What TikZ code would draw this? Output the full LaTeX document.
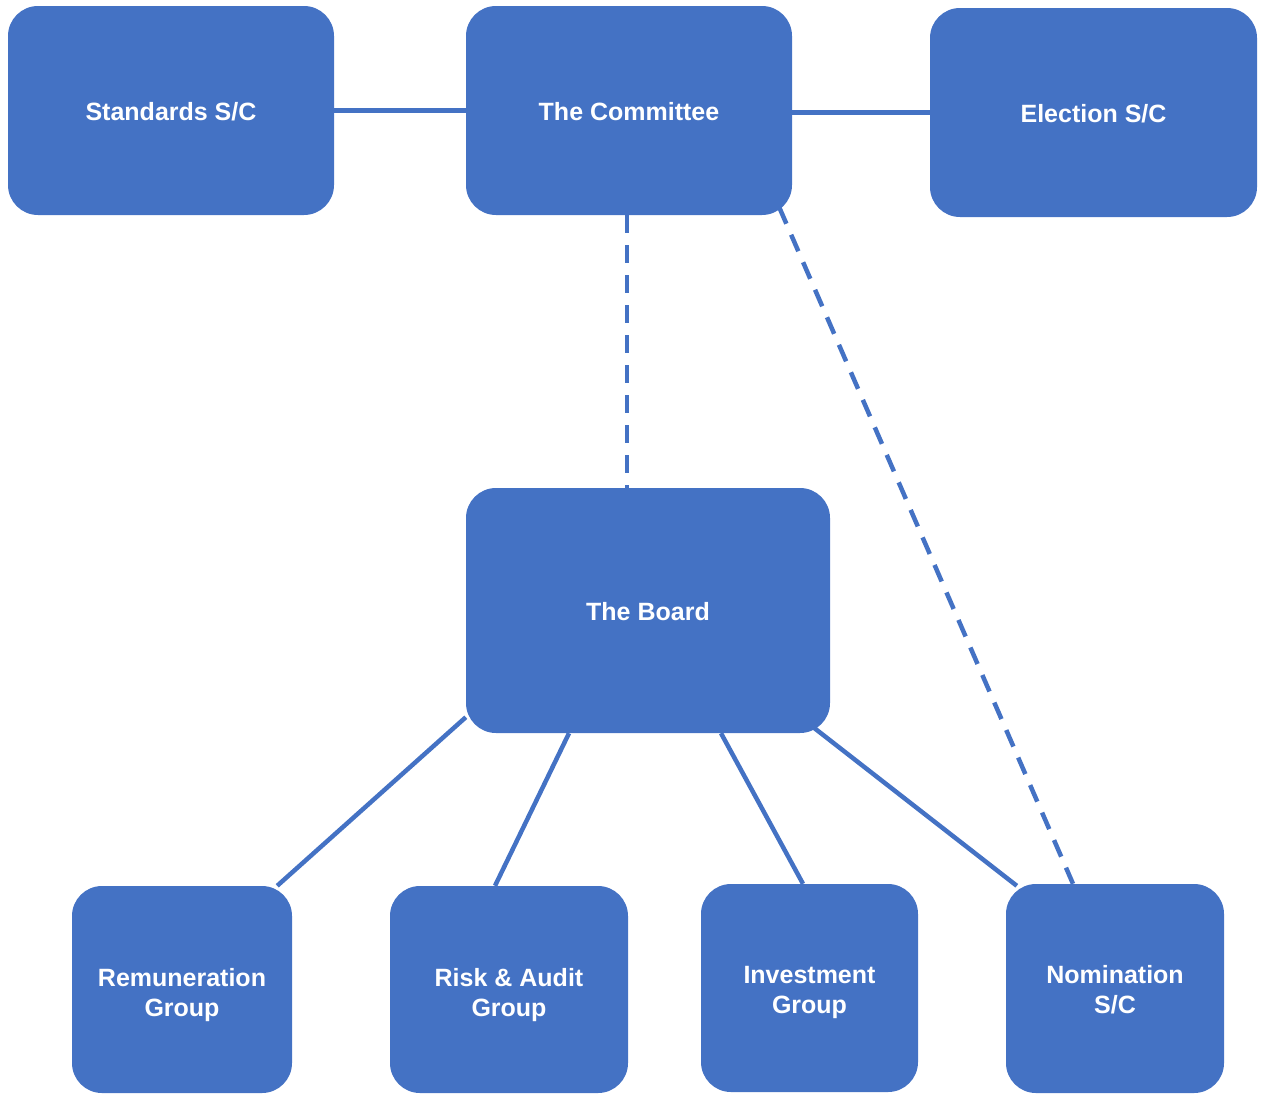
\documentclass[tikz,border=0pt]{standalone}
\usepackage{fontspec}
\setmainfont{Liberation Sans}
\usetikzlibrary{calc}
\pgfdeclarelayer{background}
\pgfsetlayers{background,main}
\definecolor{boxblue}{HTML}{4472C4}
\begin{document}
\begin{tikzpicture}[x=1pt,y=-1pt,
  box/.style={draw=none,fill=boxblue,rounded corners=30pt,inner sep=0pt},
  lbl/.style={text=white,font=\bfseries\fontsize{25}{30}\selectfont,align=center,inner sep=0pt},
  link/.style={draw=boxblue,line width=4.5pt},
  dlink/.style={link,dash pattern=on 18pt off 12pt}]
\useasboundingbox (0,0) rectangle (1266,1095);
\node[box,minimum width=326pt,minimum height=209pt,label={[lbl,yshift=-1pt]center:Standards S/C}] (std) at (171,110.5) {};
\node[box,minimum width=326pt,minimum height=209pt,label={[lbl,yshift=-1pt]center:The Committee}] (com) at (629,110.5) {};
\node[box,minimum width=327pt,minimum height=209pt,label={[lbl,yshift=-1pt]center:Election S/C}] (ele) at (1093.5,112.5) {};
\node[box,minimum width=364pt,minimum height=245pt,label={[lbl,yshift=-1pt]center:The Board}] (board) at (648,610.5) {};
\node[box,minimum width=220pt,minimum height=207pt,label={[lbl,yshift=-6pt]center:Remuneration\\Group}] (rem) at (182,989.5) {};
\node[box,minimum width=238pt,minimum height=207pt,label={[lbl,yshift=-6pt]center:Risk \& Audit\\Group}] (risk) at (509,989.5) {};
\node[box,minimum width=217pt,minimum height=208pt,label={[lbl,yshift=-4pt]center:Investment\\Group}] (inv) at (809.5,988) {};
\node[box,minimum width=218pt,minimum height=209pt,label={[lbl,yshift=-1pt]center:Nomination\\S/C}] (nom) at (1115,988.5) {};
\begin{pgfonlayer}{background}
\draw[link] (std.east) -- (com.west);
\draw[link] (ele.west -| com.east) -- (ele.west);
\draw[dlink] ($(com.south)+(-2,0)$) -- ($(com.south |- board.north)+(-2,0)$);
\draw[dlink] ($(com.south east)+(-13,-8)$) -- ($(nom.north)+(-42,0)$);
\draw[link] ($(board.south west)+(0,-16)$) -- ($(rem.north east)+(-15,0)$);
\draw[link] ($(board.south)+(-79,0)$) -- ($(risk.north)+(-14,0)$);
\draw[link] ($(board.south)+(73,0)$) -- ($(inv.north)+(-6.5,0)$);
\draw[link] ($(board.south east)+(-17,-6)$) -- ($(nom.north west)+(11,2)$);
\end{pgfonlayer}
\end{tikzpicture}
\end{document}
